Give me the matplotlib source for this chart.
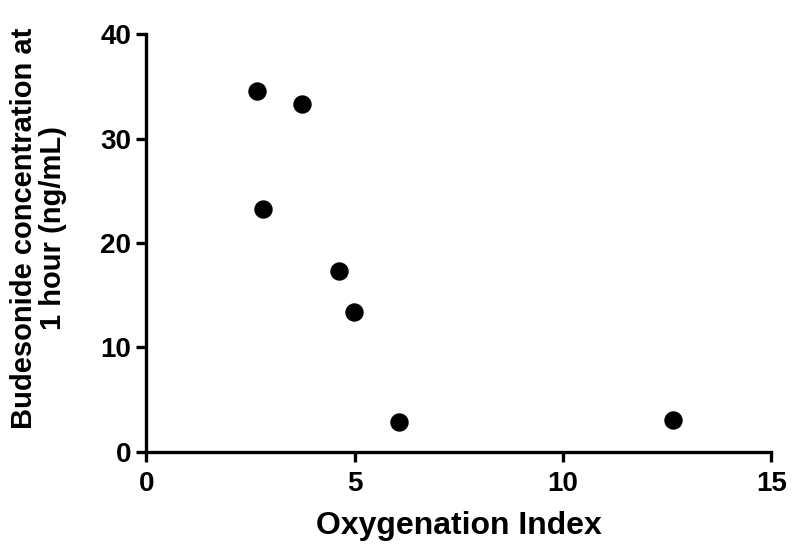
import matplotlib
matplotlib.use("Agg")
from matplotlib import pyplot as plt

# data
oxygenation_index = [2.65, 3.73, 2.80, 4.63, 4.99, 6.07, 12.65]
budesonide_conc = [34.6, 33.3, 23.3, 17.3, 13.4, 2.9, 3.1]

x_ticks = [0, 5, 10, 15]
y_ticks = [0, 10, 20, 30, 40]

plt.rcParams['font.family'] = ['Liberation Sans', 'DejaVu Sans']
plt.rcParams['font.weight'] = 'bold'

fig = plt.figure(figsize=(8, 5.6), dpi=100)
ax = fig.add_axes([0.183, 0.193, 0.781, 0.746])

ax.scatter(oxygenation_index, budesonide_conc, s=150, color='black', zorder=3, clip_on=False)

ax.set_xlim(0, 15)
ax.set_ylim(0, 40)
ax.set_xticks(x_ticks)
ax.set_yticks(y_ticks)

for side in ['top', 'right']:
	ax.spines[side].set_visible(False)
for side in ['left', 'bottom']:
	ax.spines[side].set_linewidth(2.4)
	ax.spines[side].set_color('black')

ax.tick_params(axis='both', which='major', direction='out', length=7, width=2.4,
	labelsize=20, pad=4)
ax.tick_params(axis='x', pad=7)
for lbl in ax.get_xticklabels() + ax.get_yticklabels():
	lbl.set_fontweight('bold')

ax.set_xlabel('Oxygenation Index', fontsize=23, fontweight='bold', labelpad=10)
ax.set_ylabel('Budesonide concentration at\n1 hour (ng/mL)', fontsize=21, fontweight='bold',
	linespacing=1.05)
ax.yaxis.set_label_coords(-0.127, 0.536)

fig.savefig('out.png', dpi=100)
